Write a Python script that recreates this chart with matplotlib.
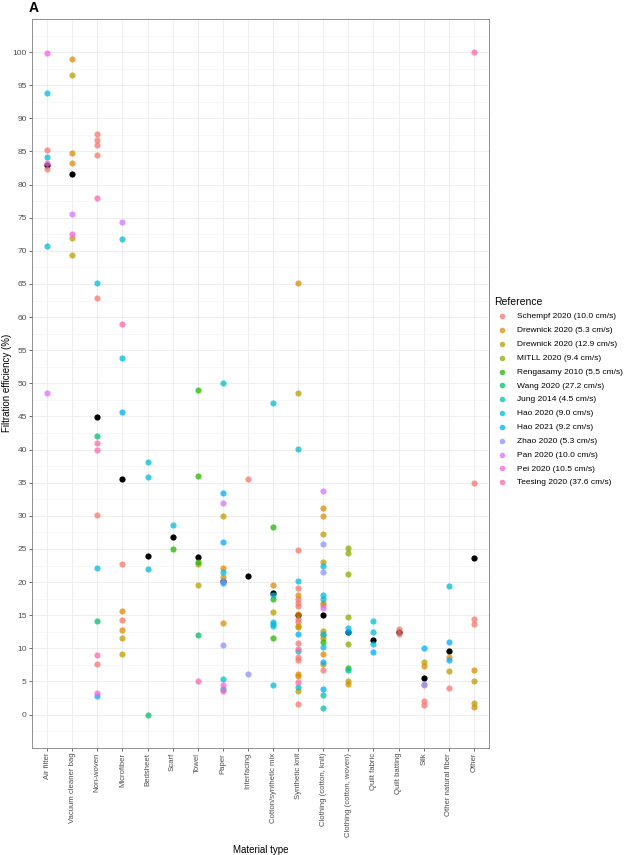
import matplotlib
matplotlib.use("Agg")
import matplotlib.pyplot as plt
from matplotlib.ticker import MultipleLocator

plt.rcParams["font.family"] = ["Liberation Sans", "DejaVu Sans"]

materials = ["Air filter", "Vacuum cleaner bag", "Non-woven", "Microfiber", "Bedsheet",
             "Scarf", "Towel", "Paper", "Interfacing", "Cotton/synthetic mix",
             "Synthetic knit", "Clothing (cotton, knit)", "Clothing (cotton, woven)",
             "Quilt fabric", "Quilt batting", "Silk", "Other natural fiber", "Other"]

references = ["Schempf 2020 (10.0 cm/s)", "Drewnick 2020 (5.3 cm/s)", "Drewnick 2020 (12.9 cm/s)",
              "MITLL 2020 (9.4 cm/s)", "Rengasamy 2010 (5.5 cm/s)", "Wang 2020 (27.2 cm/s)",
              "Jung 2014 (4.5 cm/s)", "Hao 2020 (9.0 cm/s)", "Hao 2021 (9.2 cm/s)",
              "Zhao 2020 (5.3 cm/s)", "Pan 2020 (10.0 cm/s)", "Pei 2020 (10.5 cm/s)",
              "Teesing 2020 (37.6 cm/s)"]

# ggplot hue palette, 13 levels
ref_colors = ["#F8766D", "#E18A00", "#BE9C00", "#8CAB00", "#24B700", "#00BE70", "#00C1AB",
              "#00BBDA", "#00ACFC", "#8B93FF", "#D575FE", "#F962DD", "#FF65AC"]

schempf = [("Air filter", 85.2), ("Air filter", 82.3),
           ("Non-woven", 87.6), ("Non-woven", 86.7), ("Non-woven", 86.0), ("Non-woven", 84.5),
           ("Non-woven", 62.9), ("Non-woven", 30.1), ("Non-woven", 7.6),
           ("Microfiber", 22.7), ("Microfiber", 14.3), ("Interfacing", 35.6),
           ("Synthetic knit", 24.9), ("Synthetic knit", 19.1), ("Synthetic knit", 17.5),
           ("Synthetic knit", 16.9), ("Synthetic knit", 16.4), ("Synthetic knit", 14.5),
           ("Synthetic knit", 13.9), ("Synthetic knit", 10.8), ("Synthetic knit", 8.7),
           ("Synthetic knit", 8.2), ("Synthetic knit", 1.6),
           ("Clothing (cotton, knit)", 16.6), ("Clothing (cotton, knit)", 6.7),
           ("Quilt batting", 12.9), ("Quilt batting", 12.1),
           ("Silk", 4.4), ("Silk", 2.1), ("Silk", 1.45), ("Other natural fiber", 4.0),
           ("Other", 35.0), ("Other", 14.5), ("Other", 13.6)]
drewnick_53 = [("Vacuum cleaner bag", 99.0), ("Vacuum cleaner bag", 84.7), ("Vacuum cleaner bag", 83.2),
               ("Microfiber", 15.6), ("Microfiber", 12.7), ("Paper", 22.2), ("Paper", 13.8),
               ("Cotton/synthetic mix", 19.5),
               ("Synthetic knit", 65.2), ("Synthetic knit", 18.0), ("Synthetic knit", 15.2),
               ("Synthetic knit", 13.4), ("Synthetic knit", 6.1), ("Synthetic knit", 5.8),
               ("Clothing (cotton, knit)", 31.2), ("Clothing (cotton, knit)", 29.9),
               ("Clothing (cotton, knit)", 16.8), ("Clothing (cotton, knit)", 9.1),
               ("Clothing (cotton, woven)", 4.6), ("Silk", 7.3), ("Other natural fiber", 8.7),
               ("Other", 6.8), ("Other", 1.2)]
drewnick_129 = [("Vacuum cleaner bag", 96.5), ("Vacuum cleaner bag", 71.9), ("Vacuum cleaner bag", 69.4),
                ("Microfiber", 11.6), ("Microfiber", 9.1), ("Towel", 22.7), ("Towel", 19.6),
                ("Paper", 29.9), ("Paper", 20.8), ("Cotton/synthetic mix", 15.5),
                ("Synthetic knit", 48.6), ("Synthetic knit", 13.2), ("Synthetic knit", 3.6),
                ("Clothing (cotton, knit)", 27.3), ("Clothing (cotton, knit)", 23.0),
                ("Clothing (cotton, knit)", 12.6), ("Clothing (cotton, knit)", 12.0),
                ("Clothing (cotton, knit)", 11.6), ("Clothing (cotton, knit)", 7.6),
                ("Clothing (cotton, woven)", 5.0), ("Silk", 8.0), ("Other natural fiber", 6.6),
                ("Other", 5.1), ("Other", 1.7)]
mitll = [("Clothing (cotton, woven)", 25.2), ("Clothing (cotton, woven)", 24.4),
         ("Clothing (cotton, woven)", 21.2), ("Clothing (cotton, woven)", 14.7),
         ("Clothing (cotton, woven)", 10.6)]
rengasamy = [("Scarf", 25.0), ("Towel", 49.0), ("Towel", 36.0), ("Towel", 23.0),
             ("Cotton/synthetic mix", 28.3), ("Cotton/synthetic mix", 17.5),
             ("Cotton/synthetic mix", 11.6), ("Clothing (cotton, knit)", 10.9),
             ("Clothing (cotton, woven)", 7.0)]
wang = [("Non-woven", 42.0), ("Non-woven", 14.1), ("Bedsheet", 0.0), ("Towel", 12.0)]
jung = [("Synthetic knit", 9.6), ("Synthetic knit", 4.1), ("Clothing (cotton, knit)", 2.9),
        ("Clothing (cotton, knit)", 0.95), ("Clothing (cotton, woven)", 6.7)]
hao_2020 = [("Air filter", 93.8), ("Air filter", 84.1), ("Air filter", 70.8),
            ("Non-woven", 65.1), ("Non-woven", 22.2), ("Microfiber", 71.8), ("Microfiber", 53.9),
            ("Bedsheet", 38.2), ("Bedsheet", 35.8), ("Bedsheet", 22.0), ("Scarf", 28.6),
            ("Paper", 50.1), ("Paper", 21.5), ("Paper", 5.3),
            ("Cotton/synthetic mix", 47.0), ("Cotton/synthetic mix", 18.1),
            ("Cotton/synthetic mix", 13.9), ("Cotton/synthetic mix", 13.6),
            ("Cotton/synthetic mix", 13.3), ("Cotton/synthetic mix", 4.5),
            ("Synthetic knit", 40.1), ("Synthetic knit", 20.1),
            ("Clothing (cotton, knit)", 22.4), ("Clothing (cotton, knit)", 18.0),
            ("Clothing (cotton, knit)", 17.5), ("Clothing (cotton, knit)", 12.1),
            ("Clothing (cotton, knit)", 10.2), ("Clothing (cotton, woven)", 13.0),
            ("Quilt fabric", 14.1), ("Quilt fabric", 12.4), ("Quilt fabric", 10.6),
            ("Other natural fiber", 19.4)]
hao_2021 = [("Non-woven", 2.8), ("Microfiber", 45.7), ("Paper", 33.5), ("Paper", 26.1),
            ("Paper", 19.8), ("Paper", 3.8), ("Synthetic knit", 12.2),
            ("Clothing (cotton, knit)", 8.0), ("Clothing (cotton, knit)", 3.8),
            ("Clothing (cotton, woven)", 12.5), ("Quilt fabric", 9.4), ("Silk", 10.1),
            ("Other natural fiber", 10.9), ("Other natural fiber", 8.2)]
zhao = [("Paper", 20.2), ("Paper", 10.5), ("Interfacing", 6.2),
        ("Clothing (cotton, knit)", 25.8), ("Clothing (cotton, knit)", 21.5), ("Silk", 4.6)]
pan = [("Air filter", 48.5), ("Vacuum cleaner bag", 75.6), ("Microfiber", 74.4), ("Paper", 31.9),
       ("Clothing (cotton, knit)", 33.8), ("Clothing (cotton, knit)", 16.1)]
pei = [("Air filter", 99.8), ("Air filter", 83.3), ("Vacuum cleaner bag", 72.6),
       ("Non-woven", 3.2), ("Paper", 4.5)]
teesing = [("Non-woven", 78.0), ("Non-woven", 41.0), ("Non-woven", 40.0), ("Non-woven", 9.0),
           ("Microfiber", 59.0), ("Towel", 5.0), ("Paper", 3.5), ("Synthetic knit", 9.9),
           ("Synthetic knit", 4.9), ("Other", 100.0)]

ref_points = [schempf, drewnick_53, drewnick_129, mitll, rengasamy, wang, jung,
              hao_2020, hao_2021, zhao, pan, pei, teesing]

# black summary dots per material
summary_values = [83.0, 81.6, 44.9, 35.5, 24.0, 26.8, 23.8, 20.2, 20.9, 18.4,
                  15.0, 15.0, 12.5, 11.2, 12.5, 5.5, 9.6, 23.7]

pos = {m: i + 1 for i, m in enumerate(materials)}

fig = plt.figure(figsize=(6.25, 8.55), dpi=100)
ax = fig.add_axes([0.0512, 0.1255, 0.7312, 0.8523])

ax.scatter([pos[m] for m in materials], summary_values, s=20, color="black", zorder=3,
           linewidths=0)
for label, color, pts in zip(references, ref_colors, ref_points):
    ax.scatter([pos[m] for m, v in pts], [v for m, v in pts], s=20, color=color, alpha=0.75,
               linewidths=0, zorder=4, label=label)

ax.set_xlim(0.4, len(materials) + 0.6)
ax.set_ylim(-5, 105)
ax.set_xticks(range(1, len(materials) + 1))
ax.set_xticklabels(materials, rotation=90, fontsize=5.6, color="#4D4D4D")
ax.yaxis.set_major_locator(MultipleLocator(5))
ax.yaxis.set_minor_locator(MultipleLocator(2.5))
ax.set_yticks(range(0, 101, 5))
ax.tick_params(axis="y", labelsize=6, labelcolor="#4D4D4D")
ax.tick_params(axis="both", which="major", length=2.2, width=0.5, color="#333333", pad=1.5)
ax.tick_params(axis="y", which="minor", length=0)
ax.grid(True, which="major", color="#EBEBEB", linewidth=0.6)
ax.grid(True, which="minor", axis="y", color="#F2F2F2", linewidth=0.4)
ax.set_axisbelow(True)
for sp in ax.spines.values():
    sp.set_color("#7F7F7F")
    sp.set_linewidth(0.6)

ax.set_xlabel("Material type", fontsize=7)
ax.xaxis.set_label_coords(0.5, -0.1335)
ax.set_ylabel("Filtration efficiency (%)", fontsize=7)
ax.yaxis.set_label_coords(-0.043, 0.5)

leg = ax.legend(loc="upper left", bbox_to_anchor=(0.785, 0.657), bbox_transform=fig.transFigure,
                frameon=False, fontsize=6, title="Reference", title_fontsize=7.5,
                handletextpad=0.8, labelspacing=0.72, markerscale=0.9, borderaxespad=0)
leg._legend_box.align = "left"

fig.text(0.046, 0.9906, "A", fontsize=10, fontweight="bold", ha="left", va="center")

fig.savefig("out.png", dpi=100)
